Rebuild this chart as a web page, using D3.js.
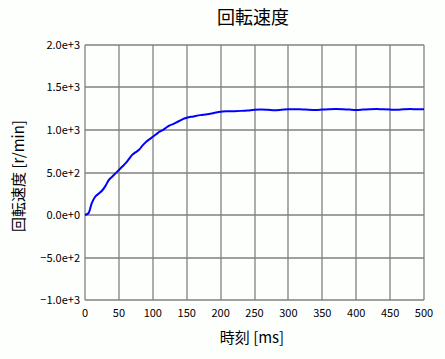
<!DOCTYPE html>
<html><head><meta charset="utf-8">
<script src="https://cdn.jsdelivr.net/npm/d3@7"></script>
<style>
html,body{margin:0;padding:0;background:#fdfffd;}
svg{display:block;}
text{font-family:"Noto Sans CJK JP","DejaVu Sans",sans-serif;fill:#000;}
</style></head>
<body>
<script>
const title = "回転速度";
const xLabel = "時刻 [ms]";
const yLabel = "回転速度 [r/min]";
const xTicks = [0,50,100,150,200,250,300,350,400,450,500];
const yTicks = [-1000,-500,0,500,1000,1500,2000];
const timeMs = [0,5,10,15,20,25,30,35,40,45,50,55,60,65,70,75,80,85,90,95,100,105,110,115,120,125,130,135,140,145,150,160,170,180,190,200,210,220,230,240,250,260,270,280,290,300,310,320,330,340,350,360,370,380,390,400,410,420,430,440,450,460,470,480,490,500];
const speed = [0,20,140,215,250,285,340,410,450,490,530,570,610,660,710,740,770,820,860,890,920,950,980,1000,1030,1055,1070,1090,1110,1130,1145,1160,1175,1185,1200,1215,1220,1222,1225,1230,1238,1240,1237,1233,1238,1243,1245,1242,1238,1236,1240,1245,1247,1245,1240,1236,1240,1245,1247,1243,1240,1238,1243,1246,1245,1245];

const W = 445, H = 359;
const svg = d3.select("body").append("svg").attr("width", W).attr("height", H);
svg.append("rect").attr("width", W).attr("height", H).attr("fill", "#fdfffd");

const x = d3.scaleLinear().domain([0,500]).range([85,424]);
const y = d3.scaleLinear().domain([-1000,2000]).range([300,45]);
const fmt = d3.format(".1e");

const grid = svg.append("g").attr("stroke", "#808080").attr("stroke-width", 1.3);
grid.selectAll("line.v").data(xTicks).join("line")
  .attr("x1", d => Math.round(x(d))).attr("x2", d => Math.round(x(d)))
  .attr("y1", y(2000)).attr("y2", y(-1000));
grid.selectAll("line.h").data(yTicks).join("line")
  .attr("x1", x(0)).attr("x2", x(500))
  .attr("y1", d => Math.round(y(d))).attr("y2", d => Math.round(y(d)));

svg.append("g").selectAll("text").data(yTicks).join("text")
  .attr("x", 80).attr("y", d => Math.round(y(d)) + 4)
  .attr("text-anchor", "end").attr("font-size", 11)
  .attr("font-family", "'Liberation Sans',Arial,sans-serif")
  .text(d => fmt(d));
svg.append("g").selectAll("text").data(xTicks).join("text")
  .attr("x", d => x(d)).attr("y", 317)
  .attr("text-anchor", "middle").attr("font-size", 11)
  .attr("font-family", "'Liberation Sans',Arial,sans-serif")
  .text(d => d);

const line = d3.line().x((d,i) => x(timeMs[i])).y(d => y(d)).curve(d3.curveMonotoneX);
svg.append("path").datum(speed).attr("d", line)
  .attr("fill", "none").attr("stroke", "#0000ff").attr("stroke-width", 2);

svg.append("text").attr("x", 253).attr("y", 24).attr("text-anchor", "middle")
  .attr("font-size", 18).text(title);
svg.append("text").attr("x", 252).attr("y", 343).attr("text-anchor", "middle")
  .attr("font-size", 15).text(xLabel);
svg.append("text").attr("transform", "translate(24,176) rotate(-90)")
  .attr("text-anchor", "middle").attr("font-size", 15).text(yLabel);
</script>
</body></html>
